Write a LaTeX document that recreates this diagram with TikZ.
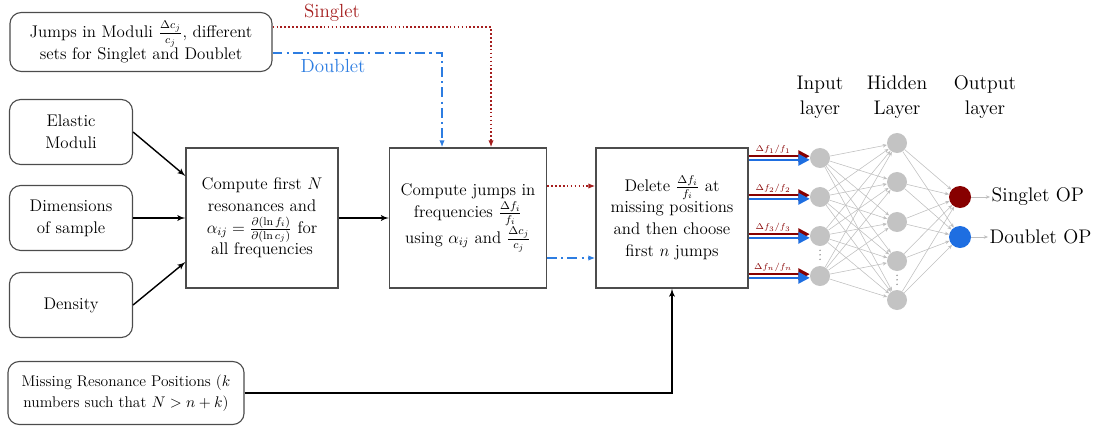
\documentclass[tikz,border=0pt]{standalone}
\usepackage{amsmath, amssymb}
\usepackage{tikz}
\usetikzlibrary{shapes,arrows,arrows.meta}
\usetikzlibrary{calc}
\usetikzlibrary{positioning}
\definecolor{sgred}{RGB}{165,30,30}
\definecolor{dbblue}{RGB}{45,125,225}
\definecolor{outred}{RGB}{135,0,0}
\definecolor{outblue}{RGB}{30,110,225}
\definecolor{neurongray}{RGB}{195,195,195}
\tikzstyle{block} = [draw=black!70, line width=0.8pt, rectangle, align=center,
    font=\fontsize{12}{15.5}\selectfont,
    minimum width=3.8cm, minimum height=3.5cm]
\tikzstyle{inbox} = [draw=black!70, line width=0.8pt, rectangle, rounded corners=8pt,
    align=center, font=\fontsize{12}{15.5}\selectfont,
    minimum width=3.075cm, minimum height=1.625cm]
\tikzstyle{neuron} = [circle, fill=neurongray, minimum size=0.5cm, inner sep=0pt]
\tikzstyle{link} = [-{Stealth[length=3pt,width=2.5pt]}, draw=black!25, line width=0.4pt]
\tikzstyle{singlet} = [-{Latex[length=5pt]}, sgred, line width=1.2pt, dash pattern=on 1.2pt off 1.6pt]
\tikzstyle{doublet} = [-{Latex[length=5pt]}, dbblue, line width=1.2pt, dash pattern=on 7pt off 3pt on 1.5pt off 3pt]
\tikzstyle{redin} = [-{Triangle[length=8pt,width=8pt]}, outred, line width=1.6pt]
\tikzstyle{bluein} = [-{Triangle[length=8pt,width=8pt]}, outblue, line width=1.6pt]
\tikzstyle{dflab} = [font=\fontsize{6}{7}\selectfont, inner sep=1pt]
\tikzstyle{layerlab} = [align=center, font=\fontsize{14}{18}\selectfont]
\tikzstyle{nndots} = [draw=black!45, line width=1.1pt, line cap=round, dash pattern=on 0pt off 3.2pt]

\begin{document}
\begin{tikzpicture}[x=0.025cm, y=-0.025cm, auto, >=latex']
      \useasboundingbox (0,0) rectangle (1102,433);

      % inputs of the flow chart
      \node [inbox, minimum width=6.55cm, minimum height=1.475cm] (jumps) at (141,42)
            {Jumps in Moduli $\frac{\Delta c_j}{c_j}$, different\\ sets for Singlet and Doublet};
      \node [inbox] (elastic) at (71,132) {Elastic\\ Moduli};
      \node [inbox] (dims) at (71,218) {Dimensions\\ of sample};
      \node [inbox] (density) at (71,305) {Density};
      \node [inbox, minimum width=5.9cm, minimum height=1.575cm, font=\fontsize{11}{15}\selectfont] (missing) at (126,393)
            {Missing Resonance Positions ($k$\\ numbers such that $N>n+k$)};

      % processing blocks
      \node [block] (comp1) at (262,218)
            {Compute first $N$\\ resonances and\\ $\alpha_{ij}=\frac{\partial(\ln f_i)}{\partial(\ln c_j)}$ for\\ all frequencies};
      \node [block, minimum width=3.925cm] (comp2) at (468,218)
            {Compute jumps in\\ frequencies $\frac{\Delta f_i}{f_i}$\\ using $\alpha_{ij}$ and $\frac{\Delta c_j}{c_j}$};
      \node [block] (delete) at (672,218)
            {Delete $\frac{\Delta f_i}{f_i}$ at\\ missing positions\\ and then choose\\ first $n$ jumps};

      \draw [->, line width=1pt] (elastic.east) -- ($(comp1.west)+(0,-42)$);
      \draw [->, line width=1pt] (dims.east) -- (comp1.west);
      \draw [->, line width=1pt] (density.east) -- ($(comp1.west)+(0,44)$);
      \draw [->, line width=1pt] (comp1) -- (comp2);
      \draw [->, line width=1pt] (missing.east) -| (delete.south);

      \draw [singlet] ($(jumps.east)+(0,-15)$) -| ($(comp2.north)+(23,0)$);
      \draw [doublet] ($(jumps.east)+(0,11)$) -| ($(comp2.north)+(-26,0)$);
      \node [sgred, font=\fontsize{13.5}{16}\selectfont] (slab) at (332,13) {Singlet};
      \node [dbblue, font=\fontsize{13.5}{16}\selectfont] (dlab) at (333,66) {Doublet};
      \draw [singlet] ($(comp2.east)+(0,-32)$) -- ($(delete.west)+(0,-32)$);
      \draw [doublet] ($(comp2.east)+(0,40)$) -- ($(delete.west)+(0,40)$);

      % neural network
      \foreach \y [count=\i] in {158,197,236,276}
        \node [neuron] (I\i) at (820,\y) {};
      \foreach \y [count=\i] in {143,182,222,261,300}
        \node [neuron] (H\i) at (897,\y) {};
      \node [neuron, fill=outred, minimum size=0.55cm] (O1) at (960,197) {};
      \node [neuron, fill=outblue, minimum size=0.55cm] (O2) at (960,237) {};
      \draw [nndots] ($(I3.south)+(0,4)$) -- ($(I4.north)+(0,-3)$);
      \draw [nndots] ($(H4.south)+(0,4)$) -- ($(H5.north)+(0,-3)$);

      \foreach \i in {1,...,4}
        \foreach \j in {1,...,5}
          \draw [link] (I\i) -- (H\j);
      \foreach \j in {1,...,5}
        \foreach \k in {1,2}
          \draw [link] (H\j) -- (O\k);

      \node [layerlab] (inlab) at (820,97) {Input\\ layer};
      \node [layerlab] (hidlab) at (897,97) {Hidden\\ Layer};
      \node [layerlab] (outlab) at (985,97) {Output\\ layer};
      \node [layerlab, anchor=west, inner sep=1pt] (sop) at (990,197) {Singlet OP};
      \node [layerlab, anchor=west, inner sep=1pt] (dop) at (988,237) {Doublet OP};
      \draw [link] (O1) -- (sop);
      \draw [link] (O2) -- (dop);

      \foreach \i/\lab in {1/1,2/2,3/3,4/n} {
        \coordinate (s\i) at (delete.east |- I\i);
        \draw [redin] ([yshift=1.3pt]s\i) -- node [dflab, above, pos=0.4] (df\i) {$\Delta f_{\lab}/f_{\lab}$} ([yshift=1.3pt]I\i.west);
        \draw [bluein] ([yshift=-1.3pt]s\i) -- ([yshift=-1.3pt]I\i.west);
      }
\end{tikzpicture}
\end{document}
